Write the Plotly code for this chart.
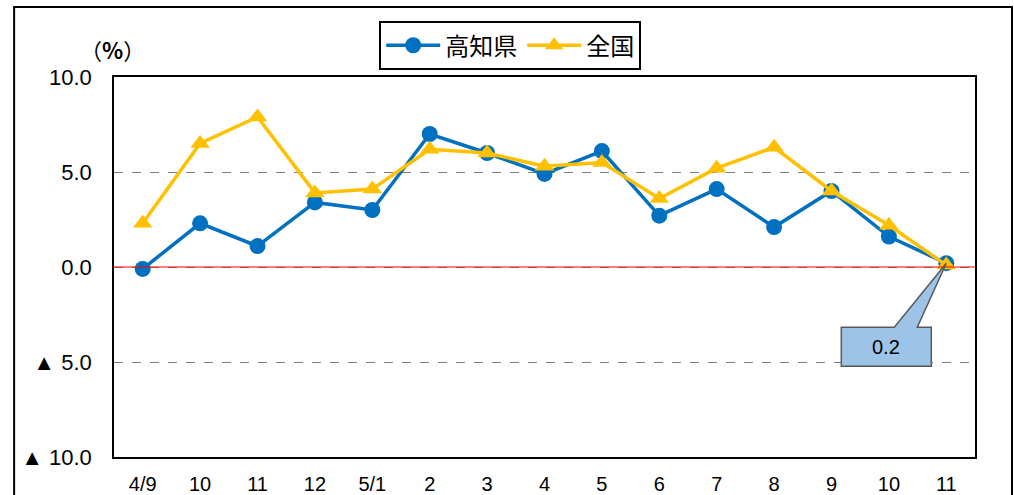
import plotly.graph_objects as go

categories = ["4/9", "10", "11", "12", "5/1", "2", "3", "4", "5", "6", "7", "8", "9", "10", "11"]
kochi = [-0.1, 2.3, 1.1, 3.4, 3.0, 7.0, 6.0, 4.9, 6.1, 2.7, 4.1, 2.1, 4.0, 1.6, 0.2]
zenkoku = [2.3, 6.5, 7.9, 3.9, 4.1, 6.2, 6.0, 5.3, 5.5, 3.6, 5.2, 6.3, 4.0, 2.2, 0.1]
ytick_vals = [10, 5, 0, -5, -10]
ytick_text = ["10.0", "5.0", "0.0", "▲ 5.0", "▲ 10.0"]
callout_text = "0.2"

x_idx = list(range(len(categories)))
JP = "Noto Sans CJK JP"
NUM = "Liberation Sans, Arial"

fig = go.Figure()
fig.add_trace(go.Scatter(
    x=x_idx, y=kochi, name="高知県", mode="lines+markers",
    line=dict(color="#0070C0", width=3.5),
    marker=dict(symbol="circle", size=16, color="#0070C0"),
))
fig.add_trace(go.Scatter(
    x=x_idx, y=zenkoku, name="全国", mode="lines+markers",
    line=dict(color="#FFC000", width=3.5),
    marker=dict(symbol="triangle-up", size=17, color="#FFC000"),
))

fig.update_layout(
    width=1014, height=495,
    margin=dict(l=114, r=39, t=77, b=38, autoexpand=False),
    paper_bgcolor="white", plot_bgcolor="white",
    showlegend=True,
    legend=dict(
        orientation="h", x=0.308, y=1.147, xanchor="left", yanchor="top",
        bordercolor="black", borderwidth=2,
        font=dict(family=JP, size=24, color="black"),
        itemwidth=54, tracegroupgap=0,
    ),
    xaxis=dict(
        range=[-0.5, len(categories) - 0.5], automargin=False,
        tickmode="array", tickvals=x_idx, ticktext=categories,
        showgrid=False, zeroline=False, ticks="",
        showline=True, linecolor="black", linewidth=1.5, mirror=True,
        tickfont=dict(family=NUM, size=20, color="black"),
        ticklabelstandoff=8,
    ),
    yaxis=dict(
        range=[-10, 10], automargin=False,
        tickmode="array", tickvals=ytick_vals, ticktext=ytick_text,
        showgrid=True, gridcolor="#808080", griddash="dash", gridwidth=1,
        zeroline=False, ticks="",
        showline=True, linecolor="black", linewidth=1.5, mirror=True,
        tickfont=dict(family=NUM, size=22, color="black"),
        ticklabelstandoff=16,
    ),
)

# red zero line
fig.add_hline(y=0, line=dict(color="#FF0000", width=1.2), layer="above")

# outer chart frame
fig.add_shape(type="rect", xref="paper", yref="paper",
              x0=-0.116, x1=1.043, y0=-0.3, y1=1.184,
              line=dict(color="black", width=2), fillcolor="rgba(0,0,0,0)", layer="below")

# (%) label
fig.add_annotation(text="（<b>%</b>）", xref="paper", yref="paper", x=-0.002, y=1.075,
                   xanchor="center", yanchor="middle", showarrow=False,
                   font=dict(family=JP, size=22, color="black"))

# callout for last value
last_i = len(categories) - 1
fig.add_shape(type="path", xref="x", yref="y", xsizemode="pixel", ysizemode="pixel",
              xanchor=last_i, yanchor=kochi[last_i],
              path="M -105 -64 L -52 -64 L 0 0 L -29 -64 L -15 -64 L -15 -103 L -105 -103 Z",
              fillcolor="#9DC3E6", line=dict(color="#595959", width=1.5), layer="above")
fig.add_annotation(x=last_i, y=kochi[last_i], text=callout_text, showarrow=False,
                   xshift=-60, yshift=-84, font=dict(family=NUM, size=20, color="black"))

fig.write_html("out.html", config={"displayModeBar": False},
               post_script="document.body.style.margin='0';document.body.style.overflow='hidden';")
